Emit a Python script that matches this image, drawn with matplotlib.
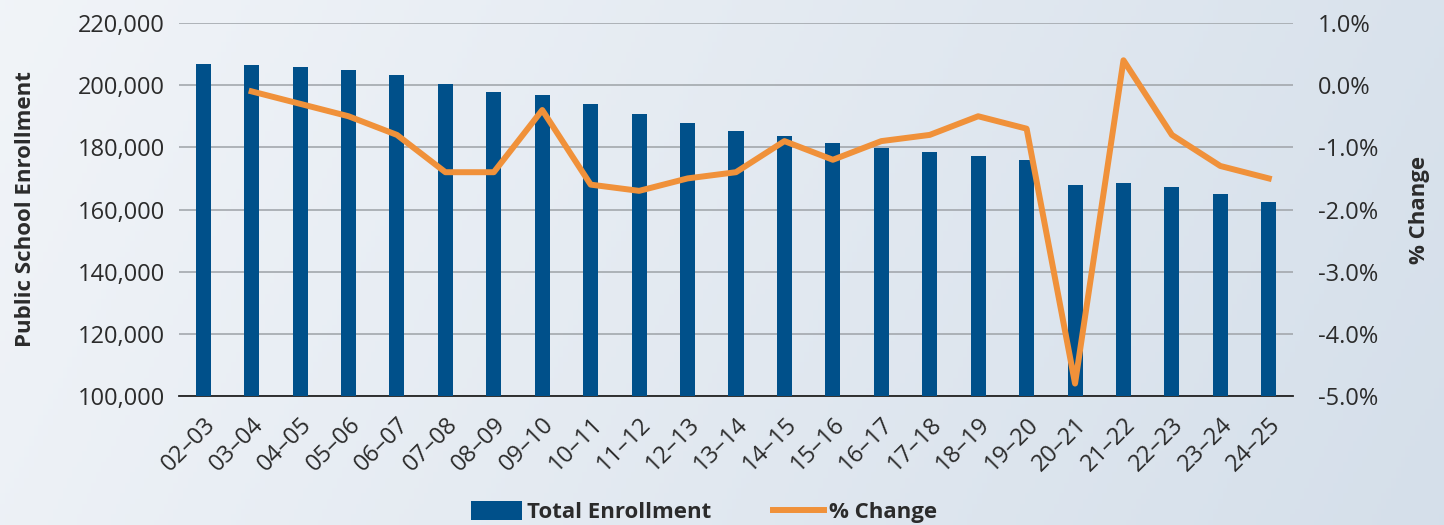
import numpy as np
import matplotlib.pyplot as plt
import matplotlib as mpl
from matplotlib.ticker import FuncFormatter
from matplotlib.patches import Patch
from matplotlib.lines import Line2D

mpl.rc('font', family='Open Sans')

years = ['02–03', '03–04', '04–05', '05–06', '06–07', '07–08', '08–09', '09–10',
         '10–11', '11–12', '12–13', '13–14', '14–15', '15–16', '16–17', '17–18',
         '18–19', '19–20', '20–21', '21–22', '22–23', '23–24', '24–25']

enrollment = [206800, 206500, 205900, 205000, 203300, 200500, 197700, 196800,
              194000, 190700, 187800, 185300, 183600, 181400, 179800, 178500,
              177200, 175900, 167800, 168400, 167200, 165000, 162400]

pct_change = [None, -0.1, -0.3, -0.5, -0.8, -1.4, -1.4, -0.4,
              -1.6, -1.7, -1.5, -1.4, -0.9, -1.2, -0.9, -0.8,
              -0.5, -0.7, -4.8, 0.4, -0.8, -1.3, -1.5]

barColor = '#00508a'
lineColor = '#f0913a'
textColor = '#2b2b2b'

fig = plt.figure(figsize=(14.44, 5.25), dpi=100)

# gradient background
bg = fig.add_axes([0, 0, 1, 1], zorder=-10)
gx = np.linspace(0, 1, 300)
gy = np.linspace(0, 1, 100)
X, Y = np.meshgrid(gx, gy)
t = np.clip(0.85 * X + 0.15 * Y, 0, 1)
c0 = np.array([0.945, 0.957, 0.973])
c1 = np.array([0.835, 0.875, 0.918])
img = c0[None, None, :] * (1 - t[..., None]) + c1[None, None, :] * t[..., None]
bg.imshow(img, aspect='auto', extent=[0, 1, 0, 1], origin='upper')
bg.axis('off')

ax = fig.add_axes([179/1444, 1 - 396/525, (1293-179)/1444, (396-23)/525])
ax.patch.set_alpha(0)
x = np.arange(len(years))
ax.bar(x, enrollment, width=0.31, color=barColor, zorder=3)
ax.set_ylim(100000, 220000)
ax.set_yticks(np.arange(100000, 220001, 20000))
ax.yaxis.set_major_formatter(FuncFormatter(lambda v, p: f'{int(v):,}'))
ax.set_xlim(-0.5, len(years) - 0.5)
ax.set_xticks(x)
ax.set_xticklabels(years, rotation=45, ha='right', rotation_mode='anchor')
ax.grid(axis='y', color='#a3a8ad', linewidth=1.2, zorder=0)
for s in ['top', 'right', 'left']:
    ax.spines[s].set_visible(False)
ax.spines['bottom'].set_color('#222222')
ax.spines['bottom'].set_linewidth(1.3)
ax.tick_params(axis='both', length=0, labelsize=17, colors=textColor, pad=10)
ax.tick_params(axis='x', pad=12)
ax.set_ylabel('Public School Enrollment', fontsize=16, fontweight='bold', color=textColor, labelpad=30)

ax2 = ax.twinx()
pc = np.array([np.nan if v is None else v for v in pct_change])
ax2.plot(x, pc, color=lineColor, linewidth=4.3, zorder=5)
ax2.set_ylim(-5.0, 1.0)
ax2.set_yticks(np.arange(-5, 1.01, 1))
ax2.yaxis.set_major_formatter(FuncFormatter(lambda v, p: f'{v:.1f}%'))
for s in ['top', 'right', 'left', 'bottom']:
    ax2.spines[s].set_visible(False)
ax2.tick_params(axis='y', length=0, labelsize=17, colors=textColor, pad=18)
ax2.set_ylabel('% Change', fontsize=16, fontweight='bold', color=textColor, labelpad=22)

handles = [Patch(facecolor=barColor), Line2D([0], [0], color=lineColor, linewidth=4.3)]
fig.legend(handles, ['Total Enrollment', '% Change'], loc='lower center',
           bbox_to_anchor=(0.4875, -0.035), ncol=2, frameon=False,
           prop={'weight': 'bold', 'size': 16}, handlelength=2.3, handleheight=0.9,
           columnspacing=2.8, handletextpad=0.2, labelcolor=textColor)

plt.savefig('out.png', dpi=100)
